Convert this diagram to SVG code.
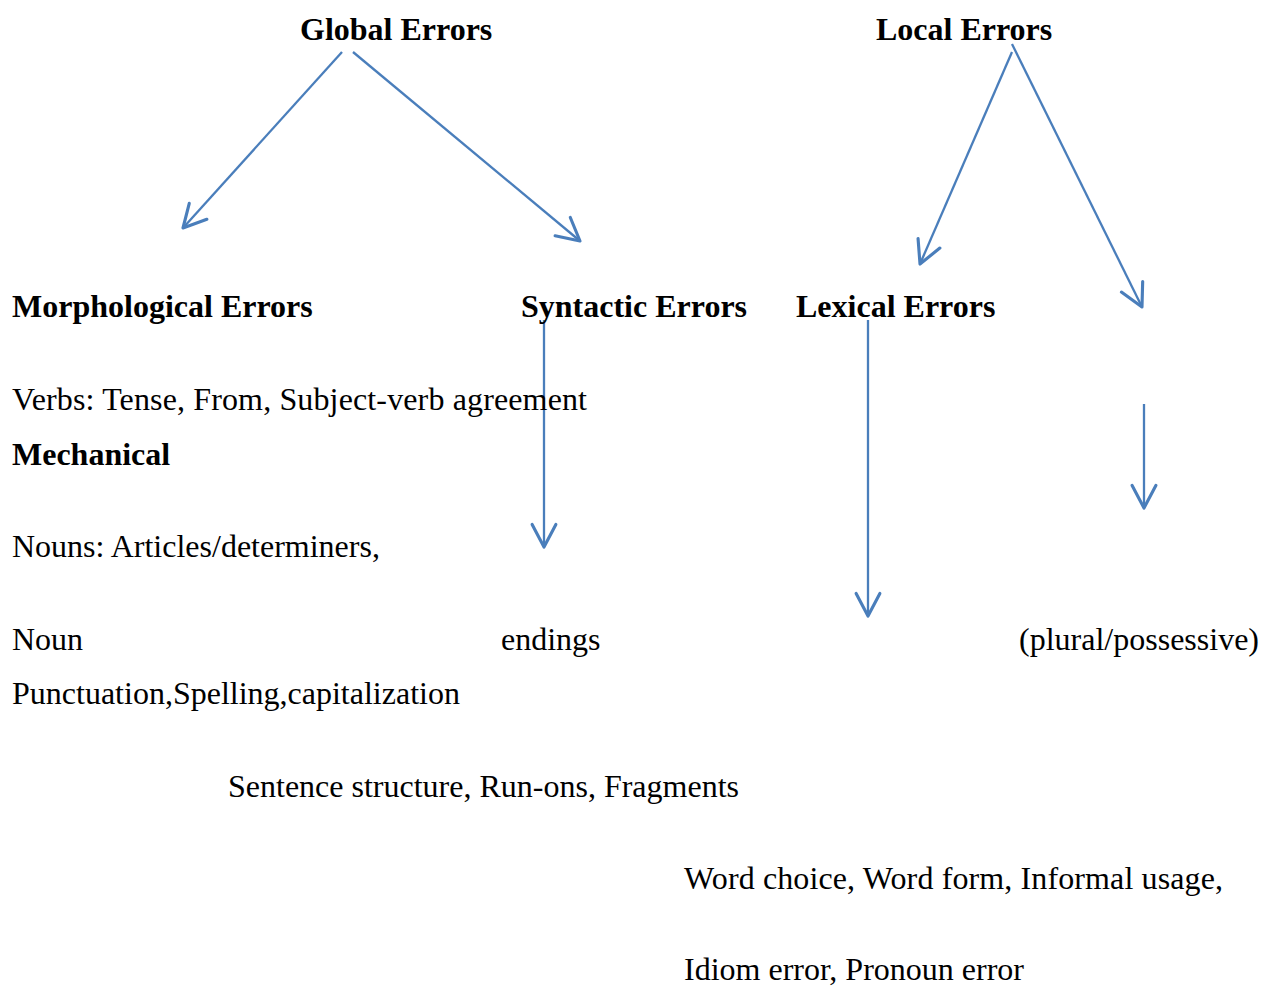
<svg xmlns="http://www.w3.org/2000/svg" width="1263" height="986" viewBox="0 0 1263 986">
<style>
text{font-family:"Liberation Serif","Times New Roman",serif;font-size:32px;fill:#000}
.b{font-weight:bold}
.c{stroke:#4a7ebb;stroke-width:2.3;fill:none;marker-end:url(#ah)}
</style>
<defs>
<marker id="ah" markerUnits="userSpaceOnUse" markerWidth="30" markerHeight="30" viewBox="-20 -12 24 24" refX="0" refY="0" orient="auto">
<path d="M-18,-9.5 L0,0 L-18,9.5" fill="none" stroke="#4a7ebb" stroke-width="2.5" stroke-linecap="round" stroke-linejoin="round"/>
</marker>
</defs>
<rect width="1263" height="986" fill="#fff"/>
<g id="connectors">
<line class="c" x1="342" y1="52" x2="183" y2="228"/>
<line class="c" x1="353" y1="52" x2="580" y2="241"/>
<line class="c" x1="1012" y1="52" x2="920" y2="264"/>
<line class="c" x1="1012" y1="44" x2="1142" y2="307"/>
<line class="c" x1="544" y1="320" x2="544" y2="547"/>
<line class="c" x1="868" y1="320" x2="868" y2="616"/>
<line class="c" x1="1144" y1="404" x2="1144" y2="508"/>
</g>
<g id="global"><text class="b" x="300" y="40">Global Errors</text></g>
<g id="local"><text class="b" x="876" y="40">Local Errors</text></g>
<g id="morph"><text class="b" x="12" y="317">Morphological Errors</text></g>
<g id="syntactic"><text class="b" x="521" y="317">Syntactic Errors</text></g>
<g id="lexical"><text class="b" x="796" y="317">Lexical Errors</text></g>
<g id="verbs"><text x="12" y="410" textLength="575" lengthAdjust="spacing">Verbs: Tense, From, Subject-verb agreement</text></g>
<g id="mechanical"><text class="b" x="12" y="465">Mechanical</text></g>
<g id="nouns">
<text x="12" y="557">Nouns: Articles/determiners,</text>
<text x="12" y="650">Noun</text>
<text x="501" y="650">endings</text>
<text x="1259" y="650" text-anchor="end">(plural/possessive)</text>
</g>
<g id="punct"><text x="12" y="704">Punctuation,Spelling,capitalization</text></g>
<g id="sentence"><text x="228" y="797">Sentence structure, Run-ons, Fragments</text></g>
<g id="word">
<text x="684" y="889" textLength="539" lengthAdjust="spacing">Word choice, Word form, Informal usage,</text>
<text x="684" y="980">Idiom error, Pronoun error</text>
</g>
</svg>
